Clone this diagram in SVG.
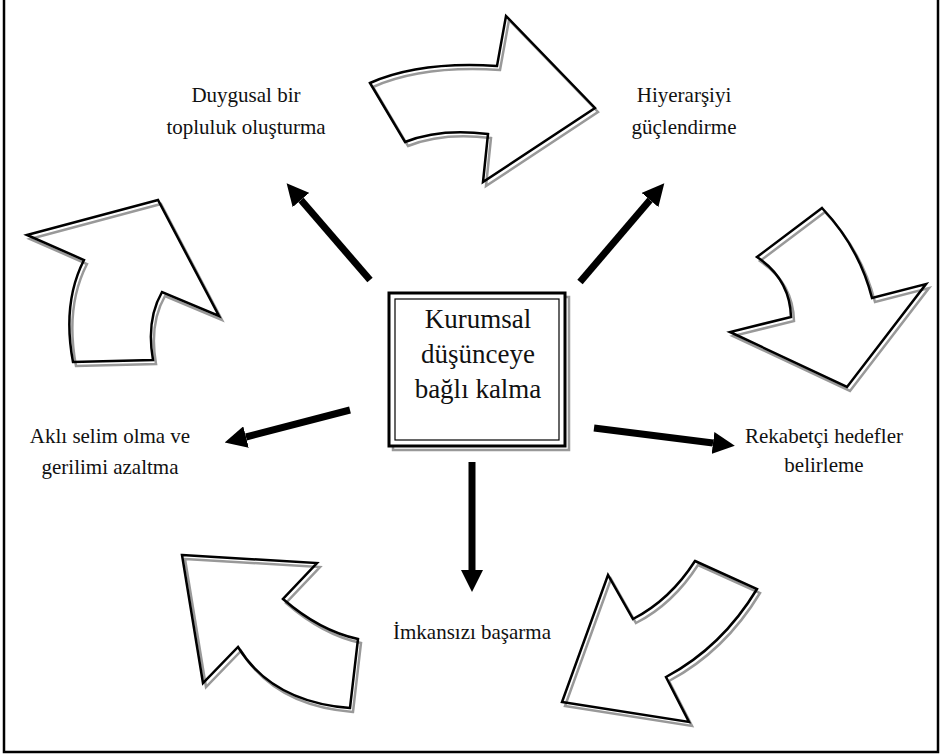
<svg xmlns="http://www.w3.org/2000/svg" width="942" height="755" viewBox="0 0 942 755">
<style>
.bg{fill:#fff}
.frame{fill:none;stroke:#000;stroke-width:2.5}
.sh{fill:#fff;stroke:#999;stroke-width:2.5;stroke-linejoin:miter}
.bk{fill:none;stroke:#000;stroke-width:2.5;stroke-linejoin:miter}
.conn{stroke:#000;stroke-width:7;fill:none}
.lbl{font-family:"Liberation Serif","Times New Roman",serif;font-size:21px;fill:#111;text-anchor:middle}
.ctr{font-family:"Liberation Serif","Times New Roman",serif;font-size:27px;fill:#111;text-anchor:middle}
</style>
<defs>
<marker id="ah" markerUnits="userSpaceOnUse" markerWidth="22" markerHeight="22" refX="0" refY="11" orient="auto">
<path d="M0,0 L22,11 L0,22 Z" fill="#000"/>
</marker>
<path id="a1" d="M370,83 Q420,61 497,66 L506,16 L595,108 L483,182 L488,134 Q440,128 405,142 Z"/>
<path id="a2" d="M822,208 L757,257 Q790,279 791,317 L730,332 L847,387 L926,284 L872,298 Q859,247 822,208 Z"/>
<path id="a3" d="M695,561 L757,589 Q722,647 666,677 L689,722 L562,702 L608,575 L633,619 Q670,600 695,561 Z"/>
<path id="a4" d="M182,555 L317,563 L283,599 Q320,631 358,639 L350,708 Q272,702 238,647 L203,683 Z"/>
<path id="a5" d="M27,235 L158,200 L219,316 L162,292 Q146,320 153,360 L73,362 Q62,303 84,260 Z"/>
</defs>
<rect class="bg" x="0" y="0" width="942" height="755"/>
<path class="frame" d="M4,0 L4,752 L938,752 L938,0"/>

<g id="curved-arrows">
<g id="arrow-top"><use href="#a1" class="sh" transform="translate(3,4)"/><use href="#a1" class="bk"/></g>
<g id="arrow-right"><use href="#a2" class="sh" transform="translate(3,4)"/><use href="#a2" class="bk"/></g>
<g id="arrow-bottom-right"><use href="#a3" class="sh" transform="translate(3,4)"/><use href="#a3" class="bk"/></g>
<g id="arrow-bottom-left"><use href="#a4" class="sh" transform="translate(3,4)"/><use href="#a4" class="bk"/></g>
<g id="arrow-left"><use href="#a5" class="sh" transform="translate(3,4)"/><use href="#a5" class="bk"/></g>
</g>

<g id="connectors">
<line class="conn" x1="370" y1="280" x2="301" y2="200" marker-end="url(#ah)"/>
<line class="conn" x1="580" y1="282" x2="650" y2="200" marker-end="url(#ah)"/>
<line class="conn" x1="350" y1="410" x2="246" y2="437" marker-end="url(#ah)"/>
<line class="conn" x1="594" y1="428" x2="713" y2="443" marker-end="url(#ah)"/>
<line class="conn" x1="472" y1="462" x2="472" y2="570" marker-end="url(#ah)"/>
</g>

<g id="center">
<rect x="393" y="297" width="176" height="153" fill="none" stroke="#999" stroke-width="2.5"/>
<rect x="389" y="293" width="176" height="153" fill="#fff" stroke="#000" stroke-width="3"/>
<rect x="395" y="299" width="164" height="141" fill="none" stroke="#000" stroke-width="1.2"/>
<text class="ctr" x="478" y="328">Kurumsal</text>
<text class="ctr" x="478" y="363">düşünceye</text>
<text class="ctr" x="478" y="398">bağlı kalma</text>
</g>

<g id="n-duygusal">
<text class="lbl" x="246" y="102">Duygusal bir</text>
<text class="lbl" x="246" y="134">topluluk oluşturma</text>
</g>
<g id="n-hiyerarsi">
<text class="lbl" x="684" y="102">Hiyerarşiyi</text>
<text class="lbl" x="684" y="134">güçlendirme</text>
</g>
<g id="n-akli">
<text class="lbl" x="110" y="443">Aklı selim olma ve</text>
<text class="lbl" x="110" y="474">gerilimi azaltma</text>
</g>
<g id="n-rekabet">
<text class="lbl" x="824" y="443">Rekabetçi hedefler</text>
<text class="lbl" x="824" y="472">belirleme</text>
</g>
<g id="n-imkansiz">
<text class="lbl" x="472" y="639">İmkansızı başarma</text>
</g>
</svg>
